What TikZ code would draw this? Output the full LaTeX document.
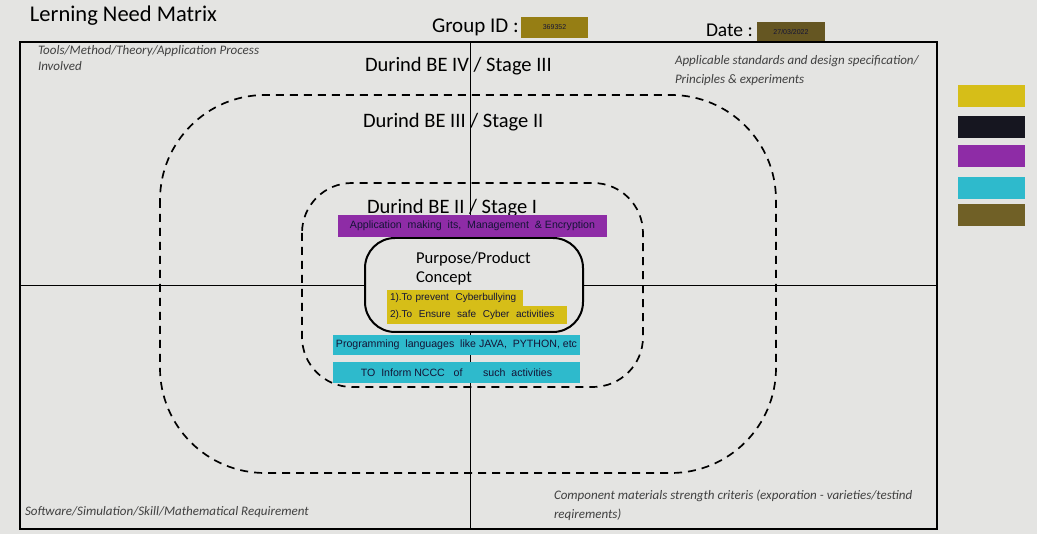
\documentclass[tikz,border=0pt]{standalone}
\usepackage{fontspec}
\setmainfont{Carlito}
\newfontfamily\tagfont{Liberation Sans}
\usetikzlibrary{positioning}

\definecolor{screen}{RGB}{228,228,226}
\definecolor{lnyellow}{RGB}{214,190,24}
\definecolor{lnblack}{RGB}{22,22,32}
\definecolor{lnpurple}{RGB}{142,44,166}
\definecolor{lncyan}{RGB}{46,186,204}
\definecolor{lnolive}{RGB}{112,96,38}
\definecolor{idbox}{RGB}{150,126,20}

\begin{document}
\begin{tikzpicture}[
		x=1pt, y=-1pt,
		every node/.style={inner sep=0pt, outer sep=0pt},
		heading/.style={font=\fontsize{20.5}{22}\selectfont, anchor=base west},
		corner/.style={font=\itshape\fontsize{13}{15}\selectfont, anchor=base west, text=black!75},
		tag/.style={font=\tagfont\fontsize{10.6}{12}\selectfont, anchor=north west, text=lnblack!90!blue},
		aim/.style={tag, fill=lnyellow, font=\tagfont\fontsize{10}{12}\selectfont, inner xsep=3pt, align=left},
		stage/.style={line width=1.7pt, dash pattern=on 8pt off 6pt}
	]
  \fill[screen] (0,0) rectangle (1037,534);
  \useasboundingbox (0,0) rectangle (1037,534);
  % header
  \node (title) [heading, font=\fontsize{22.5}{24}\selectfont] at (30,22) {Lerning Need Matrix};
  \node (gid) [heading, font=\fontsize{21}{23}\selectfont] at (432,33) {Group ID :};
  \node (gid_val) [tag, fill=idbox, minimum width=67pt, minimum height=21pt, font=\tagfont\fontsize{7}{8}\selectfont] at (521,17) {369352};
  \node (date) [heading, font=\fontsize{19.5}{21}\selectfont] at (706,37) {Date :};
  \node (date_val) [tag, fill=lnolive!90!black, minimum width=68pt, minimum height=21pt, font=\tagfont\fontsize{7}{8}\selectfont] at (757,22) {27/03/2022};
  % matrix frame and axes
  \coordinate (top) at (470,42);
  \coordinate (bottom) at (470,529);
  \coordinate (left) at (20,285);
  \coordinate (right) at (937,285);
  \draw[line width=1.5pt] (20,42) rectangle (937,529);
  \draw[line width=0.9pt] (top) -- (bottom);
  \draw[line width=0.9pt] (left) -- (right);
  % stages
  \draw[stage, rounded corners=105pt] (160,95) rectangle (776,473);
  \draw[stage, rounded corners=50pt] (302,183) rectangle (643,387);
  \draw[line width=2pt, fill=screen, rounded corners=30pt] (365,238) rectangle (583,332);
  \node (stage_iii) [heading] at (365,72) {Durind BE IV / Stage III};
  \node (stage_ii) [heading] at (363,128) {Durind BE III / Stage II};
  \node (stage_i) [heading] at (367,214) {Durind BE II / Stage I};
  % corner labels
  \node (tools) [corner] at (38,55) {Tools/Method/Theory/Application Process};
  \node (involved) [corner] at (38,71) {Involved};
  \node (standards) [corner] at (675,65) {Applicable standards and design specification/};
  \node (principles) [corner] at (675,84) {Principles \& experiments};
  \node (software) [corner] at (25,516) {Software/Simulation/Skill/Mathematical Requirement};
  \node (component) [corner] at (554,500) {Component materials strength criteris (exporation - varieties/testind};
  \node (reqs) [corner] at (554,519) {reqirements)};
  % centre
  \node (app) [tag, fill=lnpurple, minimum width=269pt, minimum height=22pt] at (338,215) {Application\ \ making\ \ its,\ \ Management\ \ \&\ Encryption};
  \node (purpose) [heading, font=\fontsize{16.6}{18}\selectfont] at (416,264) {Purpose/Product};
  \node (concept) [heading, font=\fontsize{16.6}{18}\selectfont, below=19pt of purpose.base west, anchor=base west] {Concept};
  \node (aim_1) [aim, text width=130pt, minimum height=16pt] at (387,290) {1).To prevent\ \ Cyberbullying};
  \node (aim_2) [aim, text width=174pt, minimum height=18pt, below=0pt of aim_1.south west, anchor=north west] {2).To\ \ Ensure\ \ safe\ \ Cyber\ \ activities};
  \node (lang) [tag, fill=lncyan, minimum width=247pt, minimum height=20pt] at (333,335) {Programming\ \ languages\ \ like JAVA,\ \ PYTHON, etc};
  \node (nccc) [tag, fill=lncyan, minimum width=247pt, minimum height=21pt, below=7pt of lang.south west, anchor=north west] {TO\ \ Inform NCCC\ \ \ of\ \ \ \ \ \ \ such\ \ activities};
  % legend
  \foreach \col/\y [count=\i] in {lnyellow/85, lnblack/116, lnpurple/145, lncyan/177, lnolive/204}
    \node (key_\i) [anchor=north west, fill=\col, minimum width=67pt, minimum height=22pt] at (958,\y) {};
\end{tikzpicture}
\end{document}
